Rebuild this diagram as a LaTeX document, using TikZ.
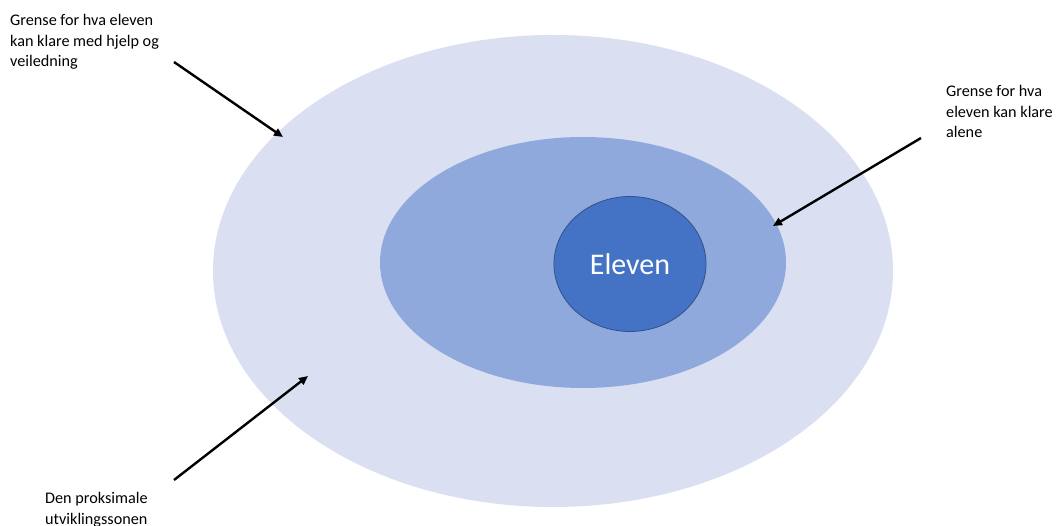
\documentclass[tikz,border=0pt]{standalone}
\usepackage{fontspec}
\setmainfont{Carlito}
\usetikzlibrary{arrows.meta,shapes.geometric}
\definecolor{outerc}{HTML}{DAE0F1}
\definecolor{midc}{HTML}{8FA9DC}
\definecolor{innerc}{HTML}{4472C4}
\definecolor{innerb}{HTML}{2F528F}
\tikzset{
  lbl/.style={anchor=north west, inner sep=0pt, align=left, font=\fontsize{16.2}{20.6}\selectfont},
  pointer/.style={line width=2.4pt, -{Triangle[length=9pt,width=8pt]}},
}
\begin{document}
\begin{tikzpicture}[x=1pt,y=-1pt]
\useasboundingbox (0,0) rectangle (1061,526);
\fill[white] (0,0) rectangle (1061,526);
\node[ellipse, draw=none, fill=outerc, minimum width=680pt, minimum height=472pt, inner sep=0pt] (outer) at (553,271) {};
\node[ellipse, draw=none, fill=midc, minimum width=406pt, minimum height=251pt, inner sep=0pt] (mid) at (583,262.5) {};
\node[ellipse, draw=innerb, line width=0.8pt, fill=innerc, minimum width=152pt, minimum height=135pt, inner sep=0pt, text=white, font=\fontsize{30}{34}\selectfont] (inner) at (630,264) {Eleven};
\node[lbl] (l1) at (10,14) {Grense for hva eleven\\kan klare med hjelp og\\veiledning};
\node[lbl] (l2) at (946,85) {Grense for hva\\eleven kan klare\\alene};
\node[lbl] (l3) at (45,492) {Den proksimale\\utviklingssonen};
\coordinate (a1s) at (174,62);
\coordinate (a1e) at (283,137);
\coordinate (a2s) at (921,138);
\coordinate (a2e) at (773,226);
\coordinate (a3s) at (174,480);
\coordinate (a3e) at (308,376);
\draw[pointer] (a1s) -- (a1e);
\draw[pointer] (a2s) -- (a2e);
\draw[pointer] (a3s) -- (a3e);
\end{tikzpicture}
\end{document}
